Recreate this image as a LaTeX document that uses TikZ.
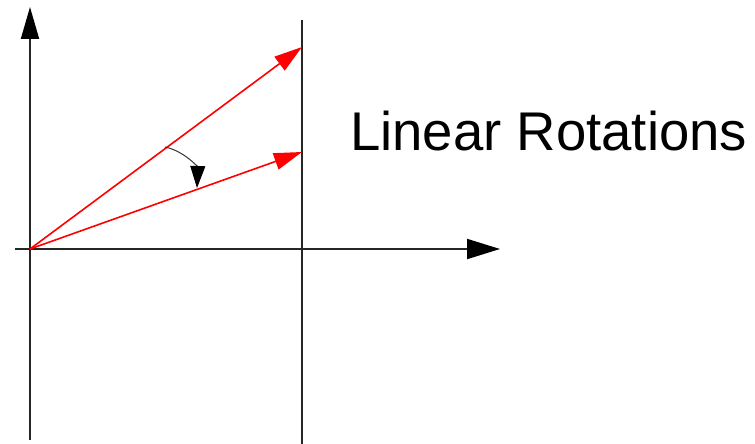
\documentclass[tikz,border=0pt]{standalone}
\usepackage{fontspec}
\setmainfont{Liberation Sans}
\usetikzlibrary{arrows.meta}
\begin{document}
\begin{tikzpicture}[x=1pt,y=-1pt,
  axis/.style={line width=2pt, draw=black!85},
  vec/.style={line width=1.6pt, draw=red, fill=red},
  label/.style={inner sep=0pt, anchor=base west, font=\fontsize{54.5pt}{60pt}\selectfont}]
\useasboundingbox (0,0) rectangle (755,444);
\coordinate (O) at (30,249);
\coordinate (ytop) at (30,7);
\coordinate (ybot) at (30,440);
\coordinate (xleft) at (15,249);
\coordinate (xright) at (500,249);
\coordinate (vtop) at (302,20);
\coordinate (vbot) at (302,444);
\coordinate (p1) at (302,47);
\coordinate (p2) at (302,152);
\coordinate (a1) at (165,147);
\coordinate (a2) at (197,188);
% axes
\draw[axis, -{Triangle[length=32pt,width=18pt,fill=black,color=black]}] (ybot) -- (ytop);
\draw[axis, -{Triangle[length=33pt,width=20pt,fill=black,color=black]}] (xleft) -- (xright);
\draw[axis] (vbot) -- (vtop);
% vectors
\draw[vec, -{Triangle[length=28pt,width=17pt]}] (O) -- (p1);
\draw[vec, -{Triangle[length=28pt,width=17pt]}] (O) -- (p2);
% rotation arrow
\draw[line width=1pt, draw=black!80, -{Triangle[length=22pt,width=15pt,fill=black,color=black]}] (a1) to[bend left=40] (a2);
\node[label] (title) at (350,150) {Linear Rotations};
\end{tikzpicture}
\end{document}
